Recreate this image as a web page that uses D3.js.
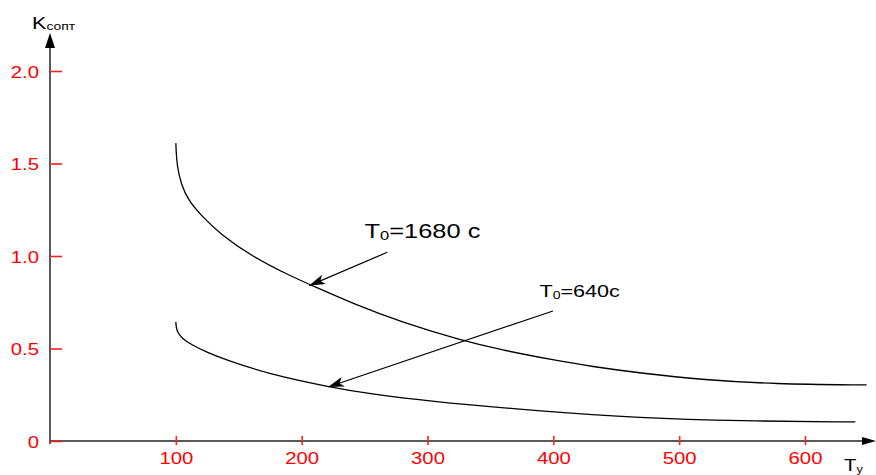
<!DOCTYPE html>
<html>
<head>
<meta charset="utf-8">
<script src="https://cdn.jsdelivr.net/npm/d3@7"></script>
<style>
  html, body { margin: 0; padding: 0; background: #fff; }
  svg { display: block; }
  text { font-family: "Liberation Sans", Arial, sans-serif; }
</style>
</head>
<body>
<svg id="chart" width="876" height="475"></svg>
<script>
// Control time T_у (x) against the optimal coefficient K_сопт (y)
const xTickValues = [100, 200, 300, 400, 500, 600];
const xTickLabels = ["100", "200", "300", "400", "500", "600"];
const yTickValues = [0, 0.5, 1.0, 1.5, 2.0];
const yTickLabels = ["0", "0.5", "1.0", "1.5", "2.0"];

// Curve for T0 = 1680 c
const tuLong = [100, 100.3, 101, 104, 110, 120, 135, 160, 190, 210, 240, 280, 325, 360, 400, 430, 470, 520, 575, 649];
const kLong  = [1.61, 1.56, 1.49, 1.39, 1.30, 1.22, 1.12, 1.00, 0.895, 0.835, 0.745, 0.640, 0.548, 0.490, 0.438, 0.403, 0.366, 0.330, 0.308, 0.303];

// Curve for T0 = 640 c
const tuShort = [100, 100.3, 101.5, 105, 112, 125, 140, 175, 222, 254, 300, 389, 469, 548, 640];
const kShort  = [0.643, 0.615, 0.585, 0.555, 0.522, 0.478, 0.438, 0.360, 0.292, 0.255, 0.215, 0.162, 0.124, 0.108, 0.103];

// Callout labels: text, label anchor (tu, K), arrow start (tu, K), arrow tip (tu, K)
const calloutText  = ["1680 с", "640с"];
const calloutLabel = [[250, 1.097], [389, 0.778]];
const calloutFrom  = [[268, 1.02], [399.7, 0.703]];
const calloutTip   = [[206, 0.84], [221, 0.292]];
const calloutSize  = [20, 17];

const svg = d3.select("#chart");
const X0 = 50, Y0 = 441;
const x = d3.scaleLinear().domain([0, 600]).range([X0, 805]);
const y = d3.scaleLinear().domain([0, 2]).range([Y0, 71]);
const STRETCH = 1.27;

const defs = svg.append("defs");
defs.append("marker")
  .attr("id", "head").attr("markerUnits", "userSpaceOnUse")
  .attr("markerWidth", 18).attr("markerHeight", 12)
  .attr("refX", 16).attr("refY", 5).attr("orient", "auto")
  .append("path").attr("d", "M0,0 L16,5 L0,10 L4,5 Z").attr("fill", "#000");

// Axis lines with arrowheads
svg.append("line").attr("x1", X0).attr("y1", Y0 + 3).attr("x2", X0).attr("y2", 46)
  .attr("stroke", "#222").attr("stroke-width", 1.5);
svg.append("path").attr("d", `M${X0},33 L${X0 - 5},48 L${X0 + 5},48 Z`).attr("fill", "#000");
svg.append("line").attr("x1", X0).attr("y1", Y0).attr("x2", 864).attr("y2", Y0)
  .attr("stroke", "#222").attr("stroke-width", 1.5);
svg.append("path").attr("d", `M876,${Y0} L862,${Y0 - 4} L862,${Y0 + 4} Z`).attr("fill", "#000");

// Y axis: ticks pointing inward, red labels
const yAxis = d3.axisLeft(y)
  .tickValues(yTickValues)
  .tickFormat((d, i) => yTickLabels[i])
  .tickSizeInner(-12).tickSizeOuter(0).tickPadding(11);
const gy = svg.append("g").attr("transform", `translate(${X0},0)`).call(yAxis);
gy.select(".domain").remove();
gy.selectAll(".tick line").attr("stroke", "#ff2020").attr("stroke-width", 1.6);
gy.selectAll(".tick text")
  .attr("fill", "#ff0000").attr("font-size", 16)
  .attr("font-family", "Liberation Sans, Arial, sans-serif")
  .attr("x", null).attr("dy", "0.38em")
  .attr("transform", `translate(-11,0) scale(${STRETCH},1)`);

// X axis: ticks crossing the line, red labels
const xAxis = d3.axisBottom(x)
  .tickValues(xTickValues)
  .tickFormat((d, i) => xTickLabels[i])
  .tickSizeInner(4).tickSizeOuter(0).tickPadding(8);
const gx = svg.append("g").attr("transform", `translate(0,${Y0})`).call(xAxis);
gx.select(".domain").remove();
gx.selectAll(".tick line").attr("y1", -5).attr("stroke", "#ff2020").attr("stroke-width", 1.6);
gx.selectAll(".tick text")
  .attr("fill", "#ff0000").attr("font-size", 16)
  .attr("font-family", "Liberation Sans, Arial, sans-serif")
  .attr("y", null).attr("dy", "0.71em")
  .attr("transform", `translate(0,12) scale(${STRETCH},1)`);

// Curves
const line = d3.line().x(d => x(d[0])).y(d => y(d[1])).curve(d3.curveBasis);
[[tuLong, kLong], [tuShort, kShort]].forEach(([tu, k]) => {
  svg.append("path")
    .datum(tu.map((t, i) => [t, k[i]]))
    .attr("d", line)
    .attr("fill", "none").attr("stroke", "#000").attr("stroke-width", 1.3);
});

// Text helper with horizontal stretch
function label(px, py, size, anchor) {
  return svg.append("g").attr("transform", `translate(${px},${py}) scale(${STRETCH},1)`)
    .append("text").attr("text-anchor", anchor || "start").attr("font-size", size).attr("fill", "#000");
}

// Callouts
calloutText.forEach((txt, i) => {
  svg.append("line")
    .attr("x1", x(calloutFrom[i][0])).attr("y1", y(calloutFrom[i][1]))
    .attr("x2", x(calloutTip[i][0])).attr("y2", y(calloutTip[i][1]))
    .attr("stroke", "#000").attr("stroke-width", 1.2).attr("marker-end", "url(#head)");
  const s = calloutSize[i];
  const t = label(x(calloutLabel[i][0]), y(calloutLabel[i][1]), s);
  t.append("tspan").text("T");
  t.append("tspan").attr("font-size", s * 0.65).attr("dy", s * 0.1).text("0");
  t.append("tspan").attr("dy", -s * 0.1).text("=" + txt);
});

// Axis titles
const ky = label(32, 29, 17);
ky.append("tspan").text("K");
ky.append("tspan").attr("font-size", 11).attr("dy", 1).text("сопт");

const kx = label(844, 471, 16);
kx.append("tspan").text("T");
kx.append("tspan").attr("font-size", 10).attr("dy", 2).text("у");
</script>
</body>
</html>
